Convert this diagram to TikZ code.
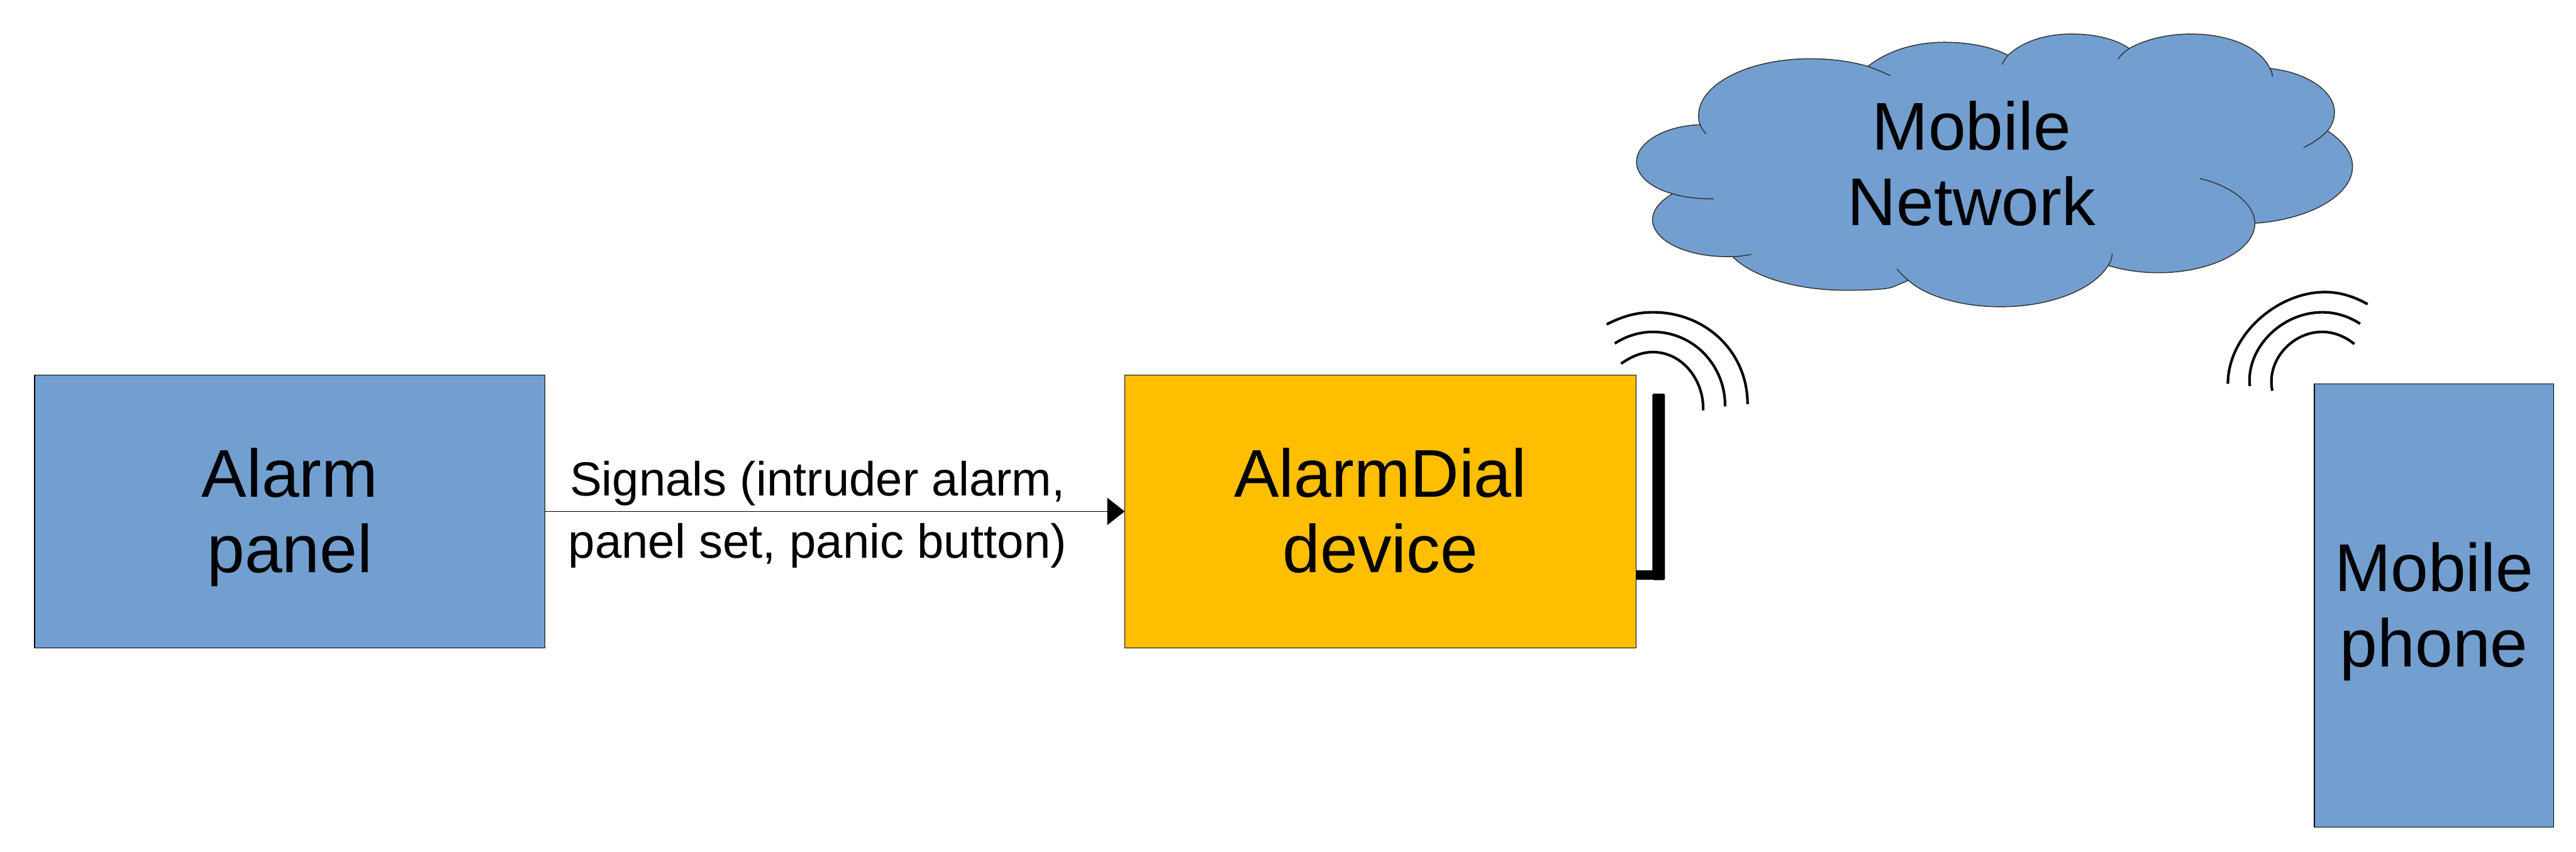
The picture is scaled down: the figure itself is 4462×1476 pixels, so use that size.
\documentclass[tikz,border=0pt]{standalone}
\usepackage{fontspec}
\setmainfont{Liberation Sans}
\usetikzlibrary{arrows.meta}
\definecolor{boxblue}{HTML}{729FCF}
\definecolor{boxorange}{HTML}{FFBF00}
\tikzset{
  blockbox/.style={draw=black,line width=1.6pt,inner sep=0pt,outer sep=0pt,minimum width=#1},
  cloudline/.style={draw=black!80,line width=1.6pt},
  wave/.style={draw=black,line width=4.5pt},
  signal/.style={line width=1.6pt,-{Triangle[length=30pt,width=47pt]},shorten >=0pt},
  biglabel/.style={font=\fontsize{117}{131}\selectfont,align=center,inner sep=0pt},
  smalllabel/.style={font=\fontsize{83}{108}\selectfont,align=center,inner sep=0pt}
}
\begin{document}
\begin{tikzpicture}[x=1pt,y=-1pt]
\useasboundingbox (0,0) rectangle (4462,1476);
% blocks
\node[blockbox=884pt,fill=boxblue,minimum height=473pt] (panel) at (502,886) {};
\node[blockbox=886pt,fill=boxorange,minimum height=473pt] (dial) at (2391,886) {};
\node[blockbox=414pt,fill=boxblue,minimum height=768pt] (phone) at (4216,1049) {};
\node[biglabel] (paneltext) at (502,900) {\strut Alarm\\\strut panel};
\node[biglabel] (dialtext) at (2391,900) {\strut AlarmDial\\\strut device};
\node[biglabel] (phonetext) at (4216,1063.6) {\strut Mobile\\\strut phone};
% connector
\draw[signal] (panel.east) -- (dial.west);
\node[smalllabel] (signals) at (1416,891) {\strut Signals (intruder alarm,\\\strut panel set, panic button)};
% antenna
\coordinate (anttop) at (2873,682);
\coordinate (antbot) at (2873,1005);
\fill[rounded corners=3pt] (2862,682) rectangle (2884,1005);
\fill (dial.east |- 0,988) rectangle (2870,1004);
% waves at antenna
\draw[wave] (2783,562) .. controls (2810,548) and (2835,541) .. (2863,541) .. controls (2955,541) and (3027,610) .. (3027,700);
\draw[wave] (2797,595) .. controls (2817,582) and (2840,575) .. (2863,575) .. controls (2935,575) and (2989,635) .. (2988,704);
\draw[wave] (2808,630) .. controls (2825,618) and (2843,610) .. (2863,610) .. controls (2915,610) and (2952,660) .. (2950,711);
% waves at phone
\draw[wave] (3859,665) .. controls (3859,580) and (3945,506) .. (4027,506) .. controls (4055,506) and (4080,515) .. (4101,527);
\draw[wave] (3897,669) .. controls (3890,605) and (3950,541) .. (4023,541) .. controls (4047,541) and (4070,549) .. (4088,561);
\draw[wave] (3936,677) .. controls (3925,625) and (3970,575) .. (4022,575) .. controls (4043,575) and (4062,583) .. (4078,596);
% cloud
\begin{scope}[shift={(2780,0)},x=0.8673pt,y=-0.35714pt]
\path[fill=boxblue,cloudline]
  (525,322) .. controls (565,245) and (620,205) .. (678,205)
  .. controls (730,205) and (775,230) .. (805,268)
  .. controls (835,200) and (880,165) .. (932,165)
  .. controls (980,165) and (1020,190) .. (1047,235)
  .. controls (1080,190) and (1125,165) .. (1170,165)
  .. controls (1250,165) and (1310,235) .. (1328,332)
  .. controls (1400,350) and (1457,440) .. (1457,545)
  .. controls (1457,575) and (1452,610) .. (1443,635)
  .. controls (1475,685) and (1493,745) .. (1493,808)
  .. controls (1493,950) and (1405,1065) .. (1298,1083)
  .. controls (1298,1215) and (1210,1323) .. (1105,1323)
  .. controls (1070,1323) and (1035,1310) .. (1005,1288)
  .. controls (975,1405) and (890,1488) .. (790,1488)
  .. controls (710,1488) and (640,1435) .. (606,1360)
  -- (575,1392) .. controls (560,1405) and (520,1408) .. (480,1408)
  .. controls (385,1408) and (295,1345) .. (255,1245)
  -- (245,1245) .. controls (160,1245) and (95,1165) .. (95,1065)
  .. controls (95,1020) and (110,975) .. (135,940)
  .. controls (90,910) and (63,850) .. (63,785)
  .. controls (63,690) and (120,610) .. (190,605)
  .. controls (187,590) and (187,575) .. (187,560)
  .. controls (187,410) and (285,285) .. (410,285)
  .. controls (455,285) and (495,300) .. (525,322) -- cycle;
\draw[cloudline] (525,322) .. controls (540,335) and (555,350) .. (570,367);
\draw[cloudline] (805,268) .. controls (800,283) and (796,298) .. (793,313);
\draw[cloudline] (1047,235) .. controls (1038,250) and (1030,268) .. (1025,287);
\draw[cloudline] (1328,332) .. controls (1331,345) and (1333,358) .. (1333,372);
\draw[cloudline] (1443,635) .. controls (1430,665) and (1415,695) .. (1395,715);
\draw[cloudline] (1298,1083) .. controls (1298,990) and (1250,900) .. (1188,866);
\draw[cloudline] (1005,1288) .. controls (1010,1270) and (1013,1250) .. (1013,1230);
\draw[cloudline] (606,1360) .. controls (597,1342) and (590,1325) .. (583,1305);
\draw[cloudline] (255,1245) .. controls (268,1244) and (280,1240) .. (292,1234);
\draw[cloudline] (135,940) .. controls (155,955) and (185,966) .. (217,964);
\draw[cloudline] (190,605) .. controls (192,620) and (197,635) .. (202,650);
\end{scope}
\node[biglabel] (cloudtext) at (3415,299) {\strut Mobile\\\strut Network};
\end{tikzpicture}
\end{document}
